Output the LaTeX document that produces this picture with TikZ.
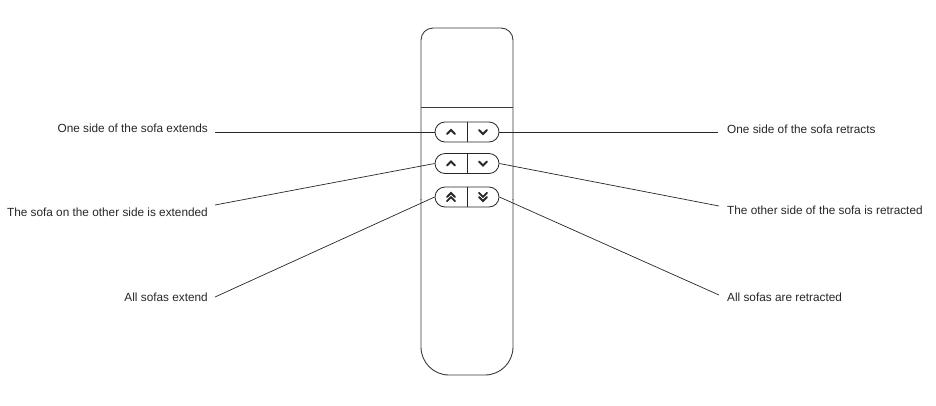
\documentclass[tikz,border=0pt]{standalone}
\usepackage{fontspec}
\setmainfont{Liberation Sans}
\definecolor{ink}{HTML}{262626}
\definecolor{case}{HTML}{3A3A3A}
\tikzset{
  btn/.style={draw=ink,line width=0.8pt,rounded corners=10pt,minimum width=64pt,minimum height=20pt,inner sep=0pt},
  lbl/.style={text=ink,inner sep=0pt,font=\fontsize{11.8}{14}\selectfont},
  lead/.style={draw=ink,line width=0.7pt},
  chev/.style={line width=1.8pt,line cap=round,line join=miter,ink},
  chevup/.pic={\draw[chev] (-4,2) -- (0,-2) -- (4,2);},
  chevdown/.pic={\draw[chev] (-4,-2) -- (0,2) -- (4,-2);},
  chevupup/.pic={\draw[chev] (-4,0) -- (0,-4) -- (4,0);
                 \draw[chev] (-4,4.2) -- (0,0.2) -- (4,4.2);},
  chevdowndown/.pic={\draw[chev] (-4,0) -- (0,4) -- (4,0);
                     \draw[chev] (-4,-4.2) -- (0,-0.2) -- (4,-4.2);}
}
\begin{document}
\begin{tikzpicture}[x=1pt,y=-1pt]
\useasboundingbox (0,0) rectangle (936,405);
% remote body
\draw[case,line width=0.9pt,rounded corners=12pt] (421,200) -- (421,28) -- (513,28) -- (513,200);
\draw[case,line width=0.9pt,rounded corners=28pt] (513,199) -- (513,375) -- (421,375) -- (421,199);
\draw[case,line width=0.9pt] (421,107) -- (513,107);
% buttons
\node[btn] (b1) at (467,132) {};
\node[btn] (b2) at (467,163.5) {};
\node[btn] (b3) at (467,197) {};
\foreach \b in {b1,b2,b3}{
  \draw[ink,line width=0.8pt] (\b.north) -- (\b.south);
}
\pic at ([xshift=-16pt]b1.center) {chevup};
\pic at ([xshift=16pt]b1.center) {chevdown};
\pic at ([xshift=-16pt]b2.center) {chevup};
\pic at ([xshift=16pt]b2.center) {chevdown};
\pic at ([xshift=-16pt]b3.center) {chevupup};
\pic at ([xshift=16pt]b3.center) {chevdowndown};
% labels
\node[lbl,anchor=base east] (l1) at (208,132) {One side of the sofa extends};
\node[lbl,anchor=base east] (l2) at (208,216) {The sofa on the other side is extended};
\node[lbl,anchor=base east] (l3) at (208,301) {All sofas extend};
\node[lbl,anchor=base west] (r1) at (727,133) {One side of the sofa retracts};
\node[lbl,anchor=base west] (r2) at (727,214) {The other side of the sofa is retracted};
\node[lbl,anchor=base west] (r3) at (727,301) {All sofas are retracted};
\draw[lead] ([xshift=7pt]l1.base east) -- (b1.west);
\draw[lead] ([xshift=7pt,yshift=11pt]l2.base east) -- (b2.west);
\draw[lead] ([xshift=7pt,yshift=4pt]l3.base east) -- (b3.west);
\draw[lead] ([xshift=-9pt,yshift=1pt]r1.base west) -- (b1.east);
\draw[lead] ([xshift=-8pt,yshift=8pt]r2.base west) -- (b2.east);
\draw[lead] ([xshift=-8pt,yshift=6pt]r3.base west) -- (b3.east);
\end{tikzpicture}
\end{document}
